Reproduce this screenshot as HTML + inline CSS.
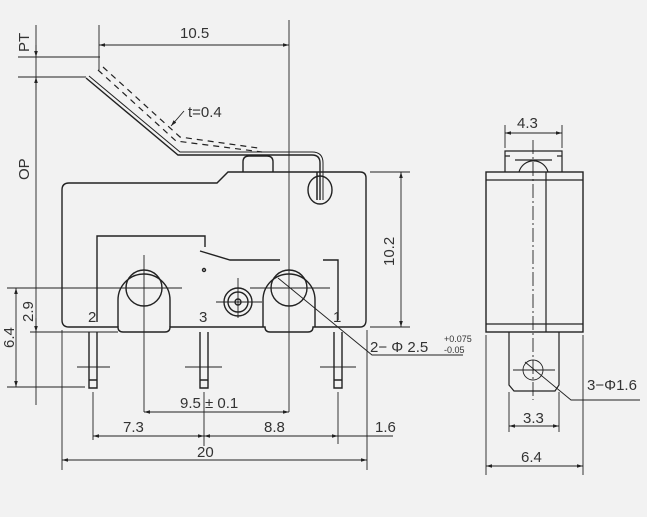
<!DOCTYPE html>
<html><head><style>html,body{margin:0;padding:0;background:#f2f2f2}svg{display:block}text{font-family:"Liberation Sans",sans-serif;fill:#333}</style></head><body>
<svg width="647" height="517" viewBox="0 0 647 517" xmlns="http://www.w3.org/2000/svg">
<defs><marker id="a" viewBox="0 0 10 6" refX="10" refY="3" markerWidth="8" markerHeight="4" orient="auto-start-reverse"><path d="M0,0L10,3L0,6z" fill="#222"/></marker></defs>
<rect width="647" height="517" fill="#f2f2f2"/>
<g stroke="#222" stroke-width="1.4" fill="none">
<path d="M62,190 Q62,183 69,183 L217,183 L228,172 L360,172 Q366,172 366,178 L366,320 Q366,327 360,327 L313,327 Q313,332 308,332 L270,332 Q265,332 265,327 L170,327 Q170,332 165,332 L123,332 Q118,332 118,327 L69,327 Q62,327 62,320 Z"/>
<path d="M118,327 L118,300 A26,26 0 0 1 170,300 L170,327"/>
<path d="M263,327 L263,300 A26,26 0 0 1 315,300 L315,327"/>
<circle cx="144" cy="288" r="18"/><circle cx="289" cy="288" r="18"/>
<circle cx="238" cy="302" r="14"/><circle cx="238" cy="302" r="10"/><circle cx="238" cy="302" r="3"/>
<path d="M97,322 L97,236 L205,236 L205,247"/>
<path d="M200,251 L230,260 L280,260"/>
<circle cx="204" cy="270" r="1.5"/>
<path d="M323,260 L338,260 L338,320"/>
<path d="M243,172 L243,162 Q243,156 249,156 L267,156 Q273,156 273,162 L273,172"/>
<path d="M86,78 L178,155 L312,155 Q320,155 320,163 L320,200"/>
<path d="M89,76 L180,152 L312,152 Q323,152 323,163 L323,200" stroke-width="1"/>
<path d="M317,172 L317,200" stroke-width="1.5"/>
<ellipse cx="320" cy="190" rx="12" ry="14"/>
<path d="M98,70 L176,141 L262,152" stroke-dasharray="6,5" stroke-width="1.2"/>
<path d="M103,67 L180,137 L258,148" stroke-dasharray="6,5" stroke-width="1.2"/>
<path d="M89,332 L89,388 L97,388 L97,332 M89,380 L97,380"/>
<path d="M200,332 L200,388 L208,388 L208,332 M200,380 L208,380"/>
<path d="M334,332 L334,388 L342,388 L342,332 M334,380 L342,380"/>
</g>
<g stroke="#222" stroke-width="0.9" fill="none">
<path d="M144,255 L144,412 M105,288 L182,288 M238,278 L238,318 M216,302 L262,302 M289,20 L289,412 M250,288 L330,288"/>
<path d="M77,367 L110,367 M185,367 L222,367 M320,367 L356,367"/>
<path d="M36,25 L36,405 M18,57 L100,57 M18,77 L86,77"/>
<path d="M36,45 L36,57" marker-end="url(#a)"/><path d="M36,90 L36,77" marker-end="url(#a)"/>
<path d="M36,318 L36,332" marker-end="url(#a)"/>
<path d="M99,25 L99,70"/>
<path d="M99,45 L289,45" marker-start="url(#a)" marker-end="url(#a)"/>
<path d="M184,111 L171,126" marker-end="url(#a)"/>
<path d="M370,172 L410,172 M370,327 L410,327"/>
<path d="M401,172 L401,327" marker-start="url(#a)" marker-end="url(#a)"/>
<path d="M7,288 L180,288 M30,332 L118,332 M7,387 L85,387"/>
<path d="M16,288 L16,387" marker-start="url(#a)" marker-end="url(#a)"/>
<path d="M93,392 L93,440 M338,392 L338,444 M204,392 L204,446 M62,330 L62,470 M367,330 L367,470"/>
<path d="M144,412 L289,412" marker-start="url(#a)" marker-end="url(#a)"/>
<path d="M93,436 L204,436" marker-start="url(#a)" marker-end="url(#a)"/>
<path d="M204,436 L338,436" marker-start="url(#a)" marker-end="url(#a)"/>
<path d="M338,436 L393,436"/>
<path d="M62,460 L367,460" marker-start="url(#a)" marker-end="url(#a)"/>
<path d="M278,278 L372,355 L463,355"/>
<rect x="486" y="172" width="97" height="160" stroke-width="1.4"/>
<path d="M486,180 L583,180 M486,324 L583,324 M546,172 L546,332" stroke-width="1.2"/>
<path d="M505,172 L505,151 L562,151 L562,172 M505,156 L510,156 M557,156 L562,156 M515,160 L552,160 M519,172 A15,15 0 0 1 548,172" stroke-width="1.2"/>
<path d="M533,140 L533,400" stroke-dasharray="14,3,2,3"/>
<path d="M509,332 L509,385 L514,391 L555,391 L559,385 L559,332" stroke-width="1.2"/>
<circle cx="533" cy="370" r="10"/>
<path d="M513,370 L555,370"/>
<path d="M525,362 L571,400 L640,400"/>
<path d="M505,125 L505,148 M562,125 L562,148"/>
<path d="M505,133 L562,133" marker-start="url(#a)" marker-end="url(#a)"/>
<path d="M509,392 L509,432 M559,392 L559,432"/>
<path d="M509,426 L559,426" marker-start="url(#a)" marker-end="url(#a)"/>
<path d="M486,335 L486,475 M583,335 L583,475"/>
<path d="M486,466 L583,466" marker-start="url(#a)" marker-end="url(#a)"/>
</g>
<g font-size="15">
<text x="180" y="38">10.5</text>
<text x="188" y="117">t=0.4</text>
<text transform="translate(29,52) rotate(-90)">PT</text>
<text transform="translate(29,180) rotate(-90)">OP</text>
<text transform="translate(394,266) rotate(-90)">10.2</text>
<text transform="translate(33,322) rotate(-90)">2.9</text>
<text transform="translate(14,348) rotate(-90)">6.4</text>
<text x="88" y="322">2</text><text x="199" y="322">3</text><text x="333" y="322">1</text>
<text x="180" y="408">9.5 ± 0.1</text>
<text x="123" y="432">7.3</text><text x="264" y="432">8.8</text><text x="375" y="432">1.6</text>
<text x="197" y="457">20</text>
<text x="370" y="352">2− Φ 2.5</text>
<text x="444" y="342" font-size="9">+0.075</text><text x="444" y="353" font-size="9">-0.05</text>
<text x="517" y="128">4.3</text>
<text x="523" y="423">3.3</text>
<text x="521" y="462">6.4</text>
<text x="587" y="390">3−Φ1.6</text>
</g>
</svg>
</body></html>
